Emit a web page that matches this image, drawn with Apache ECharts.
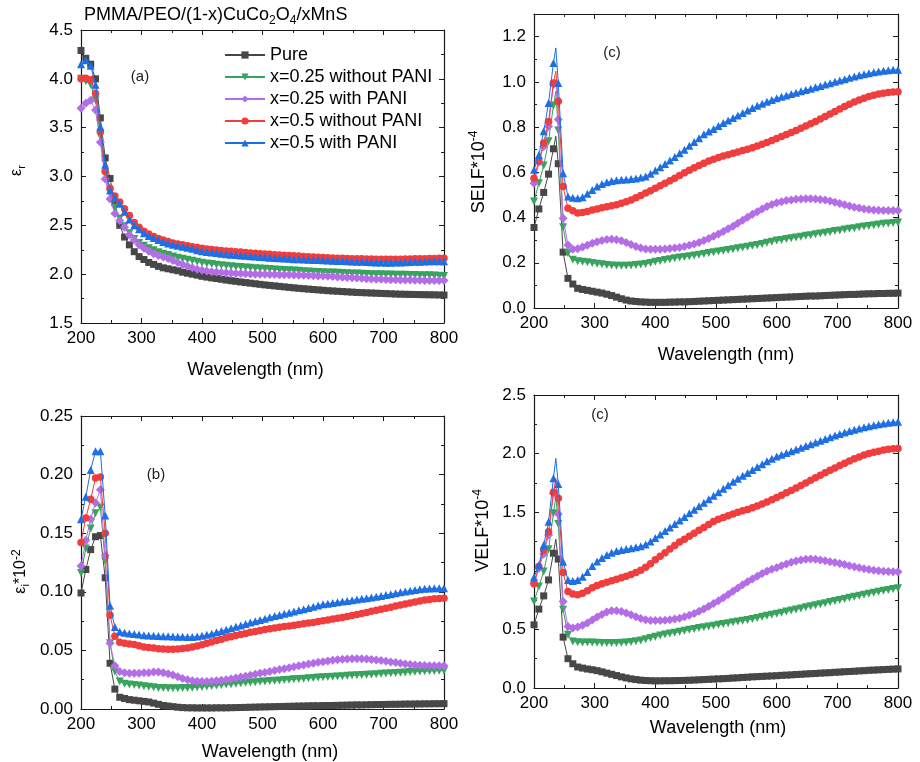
<!DOCTYPE html>
<html>
<head>
<meta charset="utf-8">
<script src="https://cdn.jsdelivr.net/npm/echarts@6/dist/echarts.min.js"></script>
<style>
  html, body { margin: 0; padding: 0; background: #fff; }
  #chart { width: 920px; height: 762px; }
</style>
</head>
<body>
<div id="chart"></div>
<script>
// Sampling wavelengths (nm) shared by every curve
const wavelength = [
  200,208,216,224,232,240,248,256,264,272,
  280,288,296,304,312,320,328,336,344,352,
  360,368,376,384,392,400,408,416,424,432,
  440,448,456,464,472,480,488,496,504,512,
  520,528,536,544,552,560,568,576,584,592,
  600,608,616,624,632,640,648,656,664,672,
  680,688,696,704,712,720,728,736,744,752,
  760,768,776,784,792,800
];

const sampleNames = ['Pure', 'x=0.25 without PANI', 'x=0.25 with PANI', 'x=0.5 without PANI', 'x=0.5 with PANI'];

// (a) real part of the dielectric constant
const erPure = [
  4.29,4.21,4.15,4.00,3.60,3.19,2.98,2.73,2.50,2.38,
  2.30,2.23,2.18,2.15,2.12,2.10,2.08,2.065,2.055,2.045,
  2.035,2.02,2.01,2.0,1.99,1.978,1.97,1.962,1.955,1.948,
  1.94,1.933,1.927,1.92,1.914,1.908,1.902,1.896,1.89,1.885,
  1.88,1.875,1.87,1.865,1.86,1.855,1.851,1.847,1.843,1.839,
  1.835,1.831,1.828,1.825,1.822,1.819,1.816,1.813,1.811,1.809,
  1.807,1.805,1.803,1.801,1.799,1.797,1.795,1.794,1.793,1.792,
  1.791,1.79,1.789,1.788,1.787,1.786
];
const erX25 = [
  4.00,3.975,3.94,3.78,3.41,3.02,2.83,2.68,2.57,2.49,
  2.42,2.36,2.32,2.29,2.265,2.245,2.225,2.21,2.195,2.18,
  2.168,2.157,2.147,2.137,2.128,2.118,2.11,2.103,2.097,2.091,
  2.086,2.081,2.077,2.073,2.069,2.065,2.061,2.058,2.055,2.052,
  2.049,2.046,2.043,2.04,2.037,2.034,2.031,2.028,2.025,2.022,
  2.02,2.018,2.016,2.014,2.012,2.01,2.008,2.006,2.004,2.002,
  2.0,1.999,1.998,1.997,1.996,1.995,1.994,1.993,1.992,1.991,
  1.99,1.989,1.988,1.986,1.984,1.982
];
const erX25P = [
  3.70,3.75,3.78,3.68,3.35,2.975,2.77,2.62,2.55,2.48,
  2.40,2.35,2.30,2.265,2.235,2.21,2.19,2.175,2.16,2.14,
  2.12,2.10,2.08,2.065,2.05,2.04,2.032,2.026,2.021,2.017,
  2.014,2.011,2.008,2.006,2.004,2.002,2.0,1.999,1.998,1.997,
  1.996,1.995,1.994,1.993,1.992,1.99,1.988,1.986,1.984,1.982,
  1.98,1.978,1.975,1.972,1.969,1.966,1.963,1.96,1.957,1.954,
  1.951,1.949,1.947,1.945,1.943,1.942,1.941,1.94,1.939,1.938,
  1.937,1.936,1.935,1.934,1.934,1.934
];
const erX50 = [
  4.00,4.005,3.99,3.85,3.46,3.05,2.88,2.80,2.74,2.67,
  2.60,2.53,2.48,2.44,2.41,2.385,2.365,2.35,2.335,2.32,
  2.31,2.30,2.29,2.28,2.272,2.265,2.258,2.252,2.247,2.242,
  2.238,2.234,2.23,2.226,2.222,2.218,2.214,2.21,2.206,2.203,
  2.2,2.197,2.194,2.191,2.188,2.185,2.182,2.179,2.176,2.173,
  2.17,2.168,2.166,2.164,2.162,2.16,2.159,2.158,2.157,2.156,
  2.155,2.154,2.153,2.153,2.153,2.153,2.154,2.155,2.156,2.157,
  2.158,2.159,2.16,2.161,2.162,2.163
];
const erX50P = [
  4.15,4.19,4.135,3.94,3.51,3.12,2.86,2.78,2.72,2.64,
  2.56,2.50,2.46,2.42,2.39,2.37,2.35,2.33,2.315,2.30,
  2.29,2.28,2.27,2.26,2.245,2.235,2.228,2.222,2.216,2.21,
  2.205,2.2,2.196,2.192,2.188,2.184,2.18,2.176,2.172,2.169,
  2.166,2.163,2.16,2.157,2.154,2.152,2.15,2.148,2.146,2.144,
  2.142,2.14,2.138,2.136,2.134,2.132,2.13,2.128,2.126,2.124,
  2.122,2.12,2.119,2.118,2.118,2.119,2.12,2.122,2.124,2.126,
  2.128,2.13,2.131,2.132,2.133,2.133
];

// (b) imaginary part of the dielectric constant (x10^-2)
const eiPure = [
  .099,.119,.136,.147,.148,.112,.039,.017,.010,.009,
  .008,.0075,.007,.0065,.006,.005,.004,.003,.0025,.002,
  .0015,.0012,.001,.001,.0009,.0009,.0009,.0009,.001,.001,
  .001,.0011,.0012,.0013,.0014,.0015,.0016,.0017,.0018,.0019,
  .002,.0021,.0022,.0023,.0024,.0025,.0026,.0027,.0028,.0028,
  .0029,.003,.003,.0031,.0032,.0033,.0034,.0035,.0035,.0036,
  .0037,.0038,.0038,.0039,.004,.004,.0041,.0042,.0042,.0043,
  .0043,.0044,.0044,.0045,.0045,.0046
];
const eiX25 = [
  .116,.137,.154,.167,.172,.126,.056,.032,.0235,.0215,
  .021,.0205,.020,.0195,.019,.0185,.018,.018,.0178,.0178,
  .0178,.0179,.018,.0182,.0185,.0188,.0192,.0196,.02,.0204,
  .0208,.0212,.0216,.022,.0223,.0226,.0229,.0232,.0235,.0238,
  .0241,.0244,.0247,.025,.0253,.0256,.0259,.0262,.0265,.0268,
  .027,.0273,.0276,.0278,.028,.0283,.0285,.0288,.029,.0293,
  .0295,.0297,.03,.0302,.0305,.0307,.031,.0312,.0315,.0317,
  .032,.0322,.0324,.0325,.0326,.0327
];
const eiX25P = [
  .122,.144,.162,.176,.187,.131,.056,.037,.032,.031,
  .0305,.0305,.0305,.031,.031,.0315,.0315,.031,.030,.029,
  .0275,.026,.025,.024,.0237,.0235,.0235,.0237,.024,.0245,
  .025,.0257,.0264,.0272,.028,.0288,.0296,.0304,.0312,.032,
  .0328,.0336,.0344,.0352,.036,.0368,.0376,.0384,.039,.0398,
  .0404,.041,.0415,.042,.0424,.0426,.0428,.0428,.0428,.0426,
  .0422,.0418,.0413,.0408,.0402,.0396,.039,.0384,.038,.0376,
  .0373,.0371,.037,.0369,.0369,.0369
];
const eiX50 = [
  .142,.163,.179,.197,.198,.150,.080,.062,.057,.056,
  .0555,.055,.054,.053,.0525,.052,.0515,.0512,.051,.051,
  .0512,.0516,.052,.0528,.0537,.0548,.056,.0572,.0584,.0596,
  .0607,.0617,.0627,.0636,.0645,.0654,.0662,.067,.0678,.0685,
  .0691,.0697,.0703,.0709,.0715,.0721,.0727,.0733,.0739,.0746,
  .0753,.076,.0767,.0774,.0781,.0789,.0797,.0806,.0815,.0824,
  .0833,.0842,.0851,.086,.0869,.0878,.0887,.0896,.0905,.0914,
  .0922,.0929,.0935,.094,.0943,.0945
];
const eiX50P = [
  .162,.181,.204,.220,.220,.165,.088,.070,.066,.065,
  .0645,.064,.0635,.063,.0628,.0625,.0622,.062,.062,.0618,
  .0617,.0616,.0615,.0615,.0618,.0624,.0633,.0643,.0654,.0665,
  .0677,.0689,.0701,.0713,.0725,.0737,.0749,.076,.0771,.0782,
  .0793,.0803,.0813,.0822,.0832,.0842,.0852,.0862,.0872,.0883,
  .0893,.0899,.0905,.0911,.0917,.0922,.0928,.0934,.094,.0946,
  .0952,.0958,.0965,.0972,.098,.0988,.0996,.1003,.101,.1016,
  .1021,.1025,.1028,.103,.103,.103
];

// (c) surface energy loss function (x10^-4)
const selfPure = [
  .356,.438,.511,.592,.704,.638,.247,.131,.106,.087,
  .082,.078,.074,.07,.066,.061,.055,.048,.041,.035,
  .031,.029,.027,.026,.025,.025,.025,.025,.026,.026,
  .027,.027,.028,.029,.03,.031,.032,.033,.034,.035,
  .036,.037,.038,.039,.04,.041,.042,.043,.044,.045,
  .046,.047,.048,.049,.05,.051,.052,.053,.053,.054,
  .055,.056,.057,.058,.059,.06,.06,.061,.062,.063,
  .063,.064,.064,.065,.065,.066
];
const selfX25 = [
  .471,.552,.63,.737,.895,.785,.357,.242,.213,.207,
  .205,.202,.199,.196,.193,.19,.188,.187,.187,.187,
  .188,.19,.192,.195,.199,.204,.208,.212,.216,.22,
  .223,.226,.229,.232,.236,.239,.243,.246,.25,.253,
  .257,.26,.264,.267,.271,.275,.279,.283,.288,.293,
  .298,.301,.305,.308,.312,.315,.319,.322,.326,.329,
  .333,.336,.34,.343,.347,.35,.353,.357,.36,.363,
  .366,.369,.372,.374,.376,.378
];
const selfX25P = [
  .552,.644,.714,.803,.988,.833,.397,.279,.26,.262,
  .27,.278,.286,.293,.299,.303,.304,.302,.297,.29,
  .281,.272,.265,.261,.26,.26,.26,.261,.263,.265,
  .268,.272,.277,.283,.29,.298,.307,.317,.327,.338,
  .35,.362,.375,.388,.401,.414,.426,.438,.449,.458,
  .465,.47,.475,.478,.481,.482,.483,.483,.482,.48,
  .477,.473,.468,.462,.456,.451,.446,.442,.438,.435,
  .433,.432,.431,.431,.431,.431
];
const selfX50 = [
  .574,.65,.73,.825,.995,.914,.537,.441,.43,.42,
  .422,.427,.433,.438,.443,.448,.452,.457,.463,.47,
  .478,.488,.498,.508,.519,.53,.541,.552,.563,.574,
  .586,.598,.609,.62,.63,.64,.65,.658,.665,.672,
  .678,.684,.69,.696,.702,.709,.716,.724,.732,.741,
  .75,.758,.767,.776,.785,.795,.805,.815,.825,.836,
  .847,.858,.869,.88,.891,.901,.911,.92,.928,.935,
  .941,.946,.95,.953,.955,.956
];
const selfX50P = [
  .611,.677,.781,.906,1.083,.995,.596,.493,.488,.485,
  .49,.505,.522,.537,.548,.556,.562,.565,.567,.568,
  .57,.573,.577,.582,.594,.608,.622,.637,.652,.668,
  .684,.7,.717,.734,.751,.768,.78,.792,.805,.818,
  .829,.84,.851,.862,.873,.884,.894,.903,.912,.92,
  .927,.934,.94,.946,.952,.958,.964,.97,.976,.982,
  .988,.994,1.0,1.006,1.012,1.018,1.024,1.029,1.034,1.038,
  1.042,1.046,1.049,1.051,1.053,1.054
];

// (d) volume energy loss function (x10^-4)
const velfPure = [
  .539,.673,.786,.922,1.15,1.10,.434,.25,.207,.179,
  .17,.162,.156,.148,.138,.127,.117,.106,.095,.086,
  .078,.072,.067,.064,.062,.061,.061,.062,.062,.063,
  .064,.065,.066,.068,.07,.072,.074,.076,.078,.08,
  .082,.085,.087,.09,.092,.095,.097,.099,.101,.103,
  .105,.108,.11,.112,.115,.117,.12,.122,.124,.127,
  .129,.131,.134,.136,.139,.141,.143,.146,.148,.151,
  .153,.155,.157,.159,.161,.163
];
const velfX25 = [
  .738,.866,.993,1.184,1.49,1.40,.667,.454,.397,.39,
  .388,.388,.388,.387,.385,.384,.383,.384,.386,.388,
  .392,.398,.405,.415,.427,.438,.447,.456,.464,.472,
  .48,.489,.497,.504,.511,.518,.525,.532,.539,.546,
  .553,.56,.567,.574,.581,.589,.598,.607,.616,.625,
  .634,.643,.652,.661,.67,.679,.688,.697,.706,.715,
  .724,.733,.742,.751,.76,.769,.778,.787,.796,.805,
  .813,.821,.829,.837,.845,.852
];
const velfX25P = [
  .894,1.022,1.144,1.306,1.661,1.485,.738,.525,.511,.52,
  .535,.555,.58,.605,.628,.648,.66,.66,.652,.64,
  .624,.607,.592,.582,.577,.576,.577,.579,.583,.588,
  .596,.607,.62,.636,.655,.675,.697,.72,.745,.77,
  .797,.825,.853,.88,.906,.93,.954,.976,.996,1.013,
  1.026,1.043,1.058,1.072,1.084,1.093,1.098,1.1,1.098,1.093,
  1.086,1.078,1.07,1.062,1.053,1.044,1.035,1.026,1.018,1.011,
  1.005,1.0,.996,.993,.991,.991
];
const velfX50 = [
  .89,1.036,1.178,1.334,1.67,1.618,.985,.823,.803,.795,
  .809,.83,.855,.875,.89,.902,.915,.928,.94,.953,
  .968,.985,1.005,1.03,1.06,1.095,1.125,1.155,1.185,1.215,
  1.245,1.27,1.295,1.32,1.345,1.37,1.395,1.42,1.44,1.455,
  1.47,1.485,1.5,1.512,1.524,1.538,1.553,1.57,1.588,1.606,
  1.625,1.645,1.665,1.686,1.707,1.728,1.75,1.772,1.794,1.815,
  1.836,1.857,1.878,1.898,1.918,1.937,1.955,1.972,1.987,2.0,
  2.011,2.021,2.03,2.037,2.041,2.044
];
const velfX50P = [
  .945,1.05,1.22,1.419,1.789,1.74,1.078,.922,.913,.922,
  .95,.99,1.04,1.08,1.11,1.135,1.155,1.168,1.178,1.185,
  1.192,1.2,1.21,1.225,1.25,1.28,1.31,1.34,1.37,1.4,
  1.43,1.46,1.49,1.52,1.55,1.58,1.61,1.64,1.67,1.70,
  1.73,1.76,1.785,1.81,1.835,1.86,1.885,1.91,1.935,1.955,
  1.975,1.99,2.005,2.02,2.035,2.05,2.065,2.08,2.095,2.11,
  2.125,2.14,2.155,2.168,2.18,2.192,2.204,2.215,2.225,2.234,
  2.242,2.25,2.257,2.263,2.268,2.271
];

// Sharp loss-function peak between the 232 and 240 nm samples (line only, no marker)
const peakWavelength = 236;
const selfPeak = [0.759, 0.958, 1.01, 1.047, 1.15];
const velfPeak = [1.27, 1.63, 1.79, 1.77, 1.96];

const FONT = '"Liberation Sans", Arial, Helvetica, sans-serif';
const colors = ['#474747', '#37a35c', '#b36ee6', '#f03d3d', '#1e6fe3'];
const symbols = [
  { symbol: 'rect', size: 7, rotate: 0 },
  { symbol: 'triangle', size: 8, rotate: 180 },
  { symbol: 'diamond', size: 9, rotate: 0 },
  { symbol: 'circle', size: 7.5, rotate: 0 },
  { symbol: 'triangle', size: 8, rotate: 0 }
];

const nameRich = {
  e:   { fontSize: 16, lineHeight: 20, fontFamily: FONT, color: '#000' },
  t:   { fontSize: 18, lineHeight: 22, fontFamily: FONT, color: '#000' },
  sub: { fontSize: 11, lineHeight: 10, verticalAlign: 'bottom', fontFamily: FONT, color: '#000' },
  sup: { fontSize: 12, lineHeight: 10, verticalAlign: 'top', fontFamily: FONT, color: '#000' }
};

const panels = [
  { grid: { left: 81, top: 30, width: 363, height: 293 }, min: 1.5, max: 4.5, step: 0.5, digits: 1,
    curves: [erPure, erX25, erX25P, erX50, erX50P], peak: null,
    yName: '{e|ε}{sub|r}', yGap: 54, yPad: [0, 0, 0, 12], xGap: 38, xPad: [0, 14, 0, 0],
    tag: '(a)', tagAt: [140, 77] },
  { grid: { left: 534, top: 14, width: 364, height: 294 }, min: 0, max: 1.3, step: 0.2, digits: 1,
    curves: [selfPure, selfX25, selfX25P, selfX50, selfX50P], peak: selfPeak,
    yName: '{t|SELF*10}{sup|-4}', yGap: 44, yPad: [0, 22, 0, 0], xGap: 38, xPad: [0, 0, 0, 20],
    tag: '(c)', tagAt: [612, 53] },
  { grid: { left: 81, top: 416, width: 363, height: 293 }, min: 0, max: 0.25, step: 0.05, digits: 2,
    curves: [eiPure, eiX25, eiX25P, eiX50, eiX50P], peak: null,
    yName: '{e|ε}{sub|i}{e|*10}{sup|-2}', yGap: 50, yPad: [0, 18, 0, 0], xGap: 34, xPad: [0, 0, 0, 15],
    tag: '(b)', tagAt: [156, 475] },
  { grid: { left: 534, top: 395, width: 364, height: 293 }, min: 0, max: 2.5, step: 0.5, digits: 1,
    curves: [velfPure, velfX25, velfX25P, velfX50, velfX50P], peak: velfPeak,
    yName: '{t|VELF*10}{sup|-4}', yGap: 40, yPad: [0, 0, 0, 22], xGap: 31, xPad: [0, 0, 0, 4],
    tag: '(c)', tagAt: [600, 415] }
];

const axisLine = { onZero: false, lineStyle: { color: '#1a1a1a', width: 1.2 } };
const axisTick = { inside: true, length: 5, lineStyle: { color: '#1a1a1a', width: 1 } };
const minorTick = { show: true, splitNumber: 2, length: 3, lineStyle: { color: '#1a1a1a', width: 1 } };
const labelStyle = { fontSize: 17, color: '#000', fontFamily: FONT };

const grids = [], xAxes = [], yAxes = [], series = [], graphics = [];

panels.forEach((p, gi) => {
  grids.push(p.grid);

  const xCommon = { type: 'value', gridIndex: gi, min: 200, max: 800, interval: 100,
    axisLine, axisTick, minorTick, splitLine: { show: false } };
  xAxes.push(Object.assign({}, xCommon, {
    position: 'bottom',
    axisLabel: Object.assign({ margin: 7 }, labelStyle),
    name: 'Wavelength (nm)', nameLocation: 'middle', nameGap: p.xGap,
    nameTextStyle: { fontSize: 18, color: '#000', fontFamily: FONT, padding: p.xPad }
  }));
  xAxes.push(Object.assign({}, xCommon, { position: 'top', axisLabel: { show: false } }));

  const yCommon = { type: 'value', gridIndex: gi, min: p.min, max: p.max, interval: p.step,
    axisLine, axisTick, minorTick, splitLine: { show: false } };
  yAxes.push(Object.assign({}, yCommon, {
    position: 'left',
    axisLabel: Object.assign({
      margin: 8,
      formatter: v => {
        const k = v / p.step;
        return Math.abs(k - Math.round(k)) < 1e-6 ? v.toFixed(p.digits) : '';
      }
    }, labelStyle),
    name: p.yName, nameLocation: 'middle', nameRotate: 90, nameGap: p.yGap,
    nameTextStyle: { rich: nameRich, padding: p.yPad }
  }));
  yAxes.push(Object.assign({}, yCommon, { position: 'right', axisLabel: { show: false } }));

  p.curves.forEach((vals, si) => {
    const data = [];
    vals.forEach((v, i) => {
      data.push([wavelength[i], v]);
      if (p.peak && wavelength[i] === 232) {
        data.push({ value: [peakWavelength, p.peak[si]], symbol: 'none' });
      }
    });
    series.push({
      type: 'line', name: sampleNames[si],
      xAxisIndex: gi * 2, yAxisIndex: gi * 2,
      data,
      symbol: symbols[si].symbol, symbolSize: symbols[si].size, symbolRotate: symbols[si].rotate,
      showAllSymbol: true,
      lineStyle: { width: 1, color: colors[si] },
      itemStyle: { color: colors[si] },
      emphasis: { disabled: true },
      animation: false,
      z: 2 + si
    });
  });

  graphics.push({
    type: 'text', x: p.tagAt[0], y: p.tagAt[1],
    style: { text: p.tag, fontSize: 15, fontFamily: FONT, fill: '#222', align: 'center', verticalAlign: 'middle' }
  });
});

const chart = echarts.init(document.getElementById('chart'), null, { renderer: 'canvas' });
chart.setOption({
  backgroundColor: '#fff',
  animation: false,
  title: {
    text: '{m|PMMA/PEO/(1-x)CuCo}{s|2}{m|O}{s|4}{m|/xMnS}',
    left: 84, top: 3, padding: 0,
    textStyle: {
      fontWeight: 'normal',
      rich: {
        m: { fontSize: 18, lineHeight: 24, fontFamily: FONT, color: '#000' },
        s: { fontSize: 12, lineHeight: 12, verticalAlign: 'bottom', fontFamily: FONT, color: '#000' }
      }
    }
  },
  legend: {
    data: sampleNames,
    orient: 'vertical', left: 224, top: 44, padding: 0,
    itemWidth: 40, itemHeight: 9, itemGap: 0,
    textStyle: { fontSize: 18, lineHeight: 22, color: '#000', fontFamily: FONT },
    selectedMode: false
  },
  grid: grids,
  xAxis: xAxes,
  yAxis: yAxes,
  series,
  graphic: graphics
});
</script>
</body>
</html>
